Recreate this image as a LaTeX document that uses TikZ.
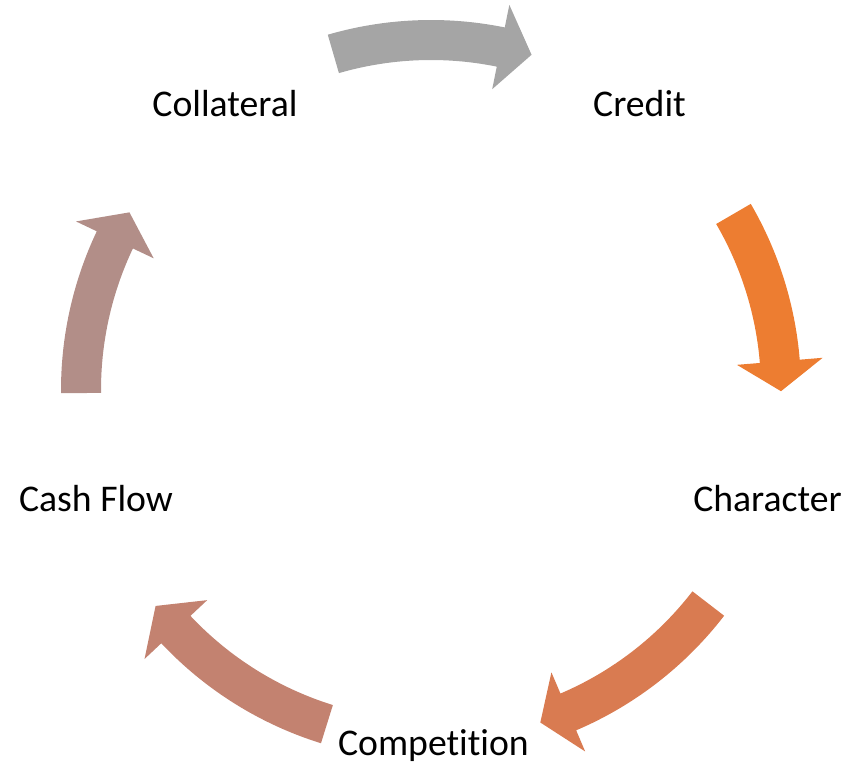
\documentclass[tikz,border=0pt]{standalone}
\usepackage{fontspec}
\setmainfont{Carlito}[Ligatures=NoCommon]

\definecolor{arrowgray}{HTML}{A5A5A5}
\definecolor{arroworange}{HTML}{ED7D31}
\definecolor{arrowcopper}{HTML}{D97B51}
\definecolor{arrowrose}{HTML}{C38270}
\definecolor{arrowmauve}{HTML}{B28E88}

\begin{document}
\begin{tikzpicture}[x=1pt, y=1pt,
    itemtext/.style={font=\fontsize{37.7}{45}\selectfont, anchor=base, inner sep=0pt}]
\useasboundingbox (-431,-375) rectangle (421,390);

% curved block arrows: tail angle / head base angle / tip angle / colour
\foreach \a/\b/\c/\col in {106.2/78.5/73.3/arrowgray, 30.2/4.7/-0.2/arroworange,
    -37.6/-66.9/-71.8/arrowcopper, -107.3/-136.8/-141.9/arrowrose, 180.5/154.6/149.5/arrowmauve}
{
    \fill[\col] (\a:370) arc[start angle=\a, end angle=\b, radius=370]
        -- (\b:393) -- (\c:350) -- (\b:307) -- (\b:330)
        arc[start angle=\b, end angle=\a, radius=330] -- cycle;
}

\node[itemtext] (credit) at (208.5,273) {Credit};
\node[itemtext] (character) at (336.5,-122) {Character};
\node[itemtext] (competition) at (2.5,-366) {Competition};
\node[itemtext] (cashflow) at (-335,-122) {Cash Flow};
\node[itemtext] (collateral) at (-206,273) {Collateral};
\end{tikzpicture}
\end{document}
